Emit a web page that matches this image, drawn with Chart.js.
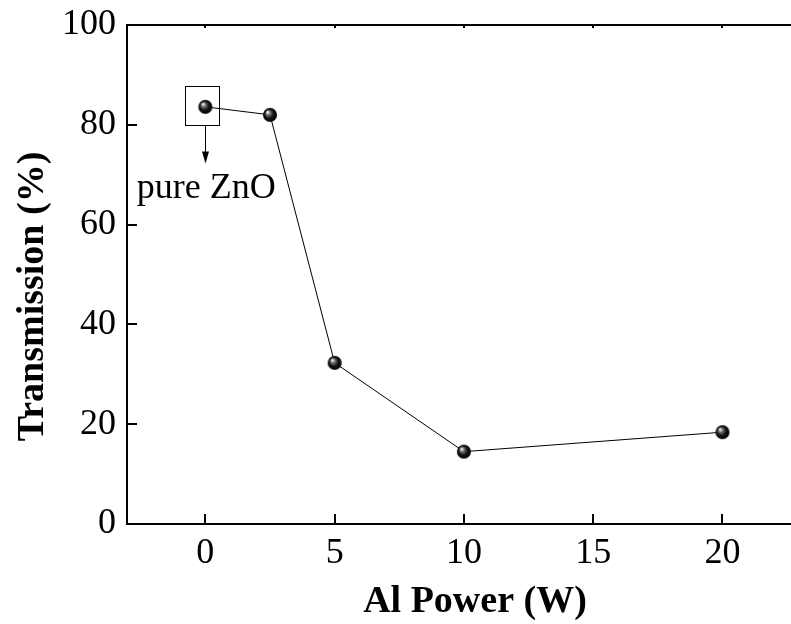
<!DOCTYPE html>
<html><head><meta charset="utf-8">
<script src="https://cdn.jsdelivr.net/npm/chart.js@4/dist/chart.umd.min.js"></script>
<style>html,body{margin:0;padding:0;background:#fff;overflow:hidden}#wrap{width:791px;height:624px;position:relative}</style>
</head><body><div id="wrap"><canvas id="c"></canvas></div>
<script>
const alPower = [0, 2.5, 5, 10, 20];
const transmission = [83.6, 82.0, 32.3, 14.5, 18.4];
const xTickValues = [0, 5, 10, 15, 20];
const yTickValues = [0, 20, 40, 60, 80, 100];
const xTitle = 'Al Power (W)';
const yTitle = 'Transmission (%)';
const annotationText = 'pure ZnO';

const FONT = '"Liberation Serif","Times New Roman",serif';

function sphere(r){
  const c = document.createElement('canvas');
  const s = r*2+2; c.width = s; c.height = s;
  const g = c.getContext('2d');
  const cx = s/2, cy = s/2;
  const grad = g.createRadialGradient(cx-r*0.35, cy-r*0.4, 0.5, cx, cy, r);
  grad.addColorStop(0, '#f4f4f4');
  grad.addColorStop(0.25, '#777');
  grad.addColorStop(0.6, '#151515');
  grad.addColorStop(1, '#000');
  g.fillStyle = grad;
  g.beginPath(); g.arc(cx, cy, r, 0, Math.PI*2); g.fill();
  return c;
}

const framePlugin = {
  id: 'frame',
  afterDatasetsDraw(chart){
    const {ctx, chartArea:a, scales:{x, y}} = chart;
    ctx.save();
    ctx.strokeStyle = '#000';
    ctx.lineWidth = 2;
    ctx.beginPath();
    ctx.moveTo(a.left, a.top); ctx.lineTo(a.right, a.top);
    ctx.moveTo(a.left, a.top - 1); ctx.lineTo(a.left, a.bottom + 1);
    ctx.moveTo(a.left, a.bottom); ctx.lineTo(a.right, a.bottom);
    ctx.stroke();
    ctx.beginPath();
    xTickValues.forEach(v => {
      const px = Math.round(x.getPixelForValue(v));
      ctx.moveTo(px, a.bottom); ctx.lineTo(px, a.bottom - 10);
      ctx.moveTo(px, a.top); ctx.lineTo(px, a.top + 3);
    });
    yTickValues.forEach(v => {
      const py = Math.round(y.getPixelForValue(v));
      ctx.moveTo(a.left, py); ctx.lineTo(a.left + 10, py);
    });
    ctx.stroke();

    // annotation around first point (pure ZnO)
    const px = x.getPixelForValue(alPower[0]);
    const py = y.getPixelForValue(transmission[0]);
    ctx.lineWidth = 1;
    ctx.strokeRect(Math.round(px) - 19.5, Math.round(py) - 20.5, 34, 39);
    const ax = Math.round(px) + 0.5;
    const ay0 = Math.round(py) + 18.5;
    const ay1 = ay0 + 38;
    ctx.beginPath(); ctx.moveTo(ax, ay0); ctx.lineTo(ax, ay1 - 8); ctx.stroke();
    ctx.fillStyle = '#000';
    ctx.beginPath();
    ctx.moveTo(ax - 3.5, ay1 - 12); ctx.lineTo(ax + 3.5, ay1 - 12); ctx.lineTo(ax, ay1); ctx.closePath(); ctx.fill();
    ctx.font = '36px ' + FONT;
    ctx.textAlign = 'center'; ctx.textBaseline = 'alphabetic';
    ctx.fillText(annotationText, px + 1, py + 91);

    // axis titles
    ctx.font = 'bold 38px ' + FONT;
    ctx.textAlign = 'center';
    ctx.fillText(xTitle, (a.left + a.right)/2 + 16, a.bottom + 88);
    ctx.save();
    ctx.translate(43, (a.top + a.bottom)/2 + 22);
    ctx.rotate(-Math.PI/2);
    ctx.fillText(yTitle, 0, 0);
    ctx.restore();
    ctx.restore();
  }
};

new Chart(document.getElementById('c'), {
  type: 'line',
  data: {
    datasets: [{
      data: alPower.map((v, i) => ({x: v, y: transmission[i]})),
      borderColor: '#000',
      borderWidth: 1,
      pointStyle: sphere(7),
      pointRadius: 7,
      pointHoverRadius: 7,
      tension: 0,
      fill: false,
      clip: false
    }]
  },
  options: {
    responsive: true,
    maintainAspectRatio: false,
    animation: false,
    devicePixelRatio: 1,
    layout: {autoPadding: false, padding: {left: 0, right: 0, top: 25, bottom: 0}},
    plugins: {legend: {display: false}, tooltip: {enabled: false}},
    scales: {
      x: {
        type: 'linear', min: -3.03, max: 22.65,
        afterBuildTicks: s => { s.ticks = xTickValues.map(v => ({value: v})); },
        afterFit: s => { s.height = 100; s.paddingLeft = 0; s.paddingRight = 0; },
        grid: {display: false, drawTicks: false},
        border: {display: false},
        ticks: {font: {family: FONT, size: 36}, color: '#000', padding: 8, maxRotation: 0, autoSkip: false}
      },
      y: {
        type: 'linear', min: 0, max: 100,
        afterBuildTicks: s => { s.ticks = yTickValues.map(v => ({value: v})); },
        afterFit: s => { s.width = 127; s.paddingTop = 0; s.paddingBottom = 0; },
        grid: {display: false, drawTicks: false},
        border: {display: false},
        ticks: {font: {family: FONT, size: 36}, color: '#000', padding: 11, autoSkip: false}
      }
    }
  },
  plugins: [framePlugin]
});
</script></body></html>
